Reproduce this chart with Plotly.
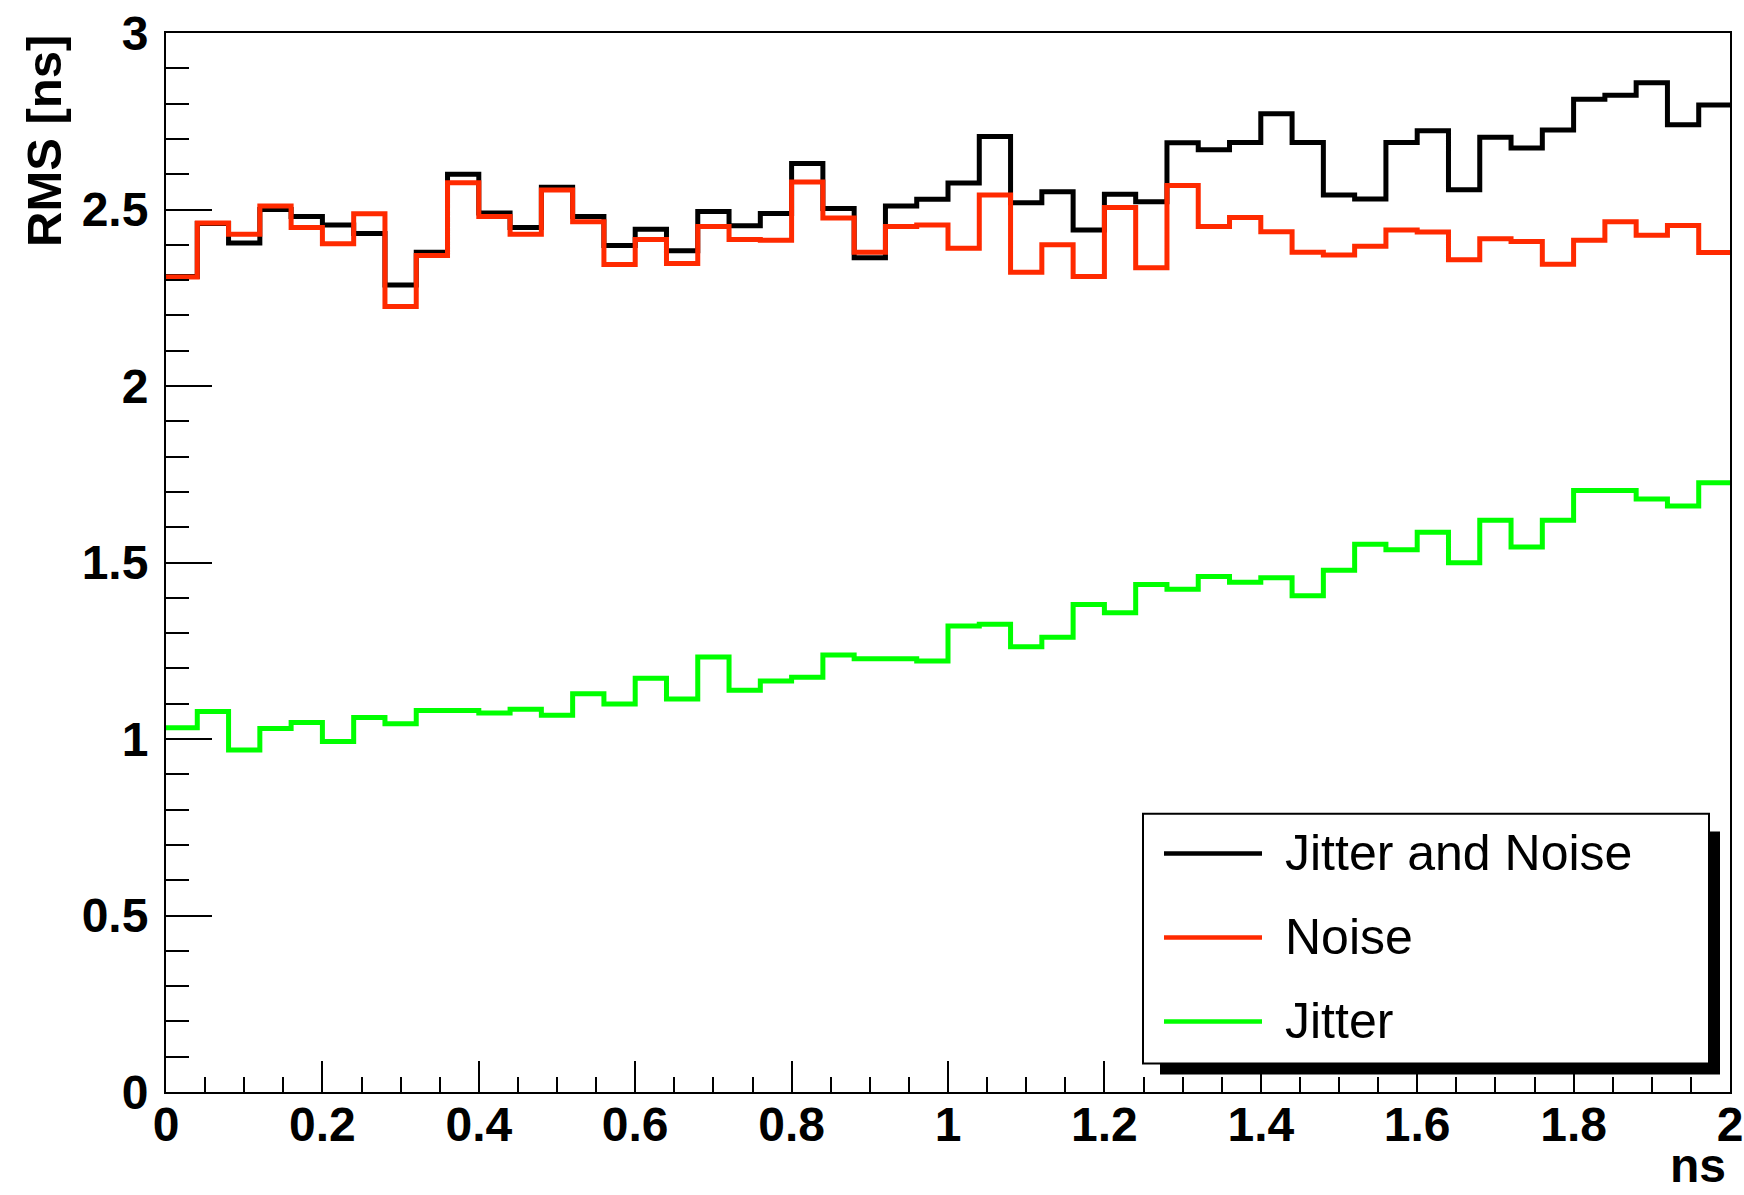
import plotly.graph_objects as go

# Binning of the time-shift axis (ns)
n_bins = 50
x_lo, x_hi = 0.0, 2.0

# RMS per bin [ns]
jitter_and_noise = [2.310, 2.460, 2.405, 2.500, 2.480, 2.456, 2.432, 2.286, 2.379, 2.600,
                    2.490, 2.449, 2.563, 2.480, 2.398, 2.444, 2.383, 2.494, 2.454, 2.489,
                    2.630, 2.503, 2.363, 2.510, 2.529, 2.575, 2.707, 2.519, 2.550, 2.442,
                    2.543, 2.522, 2.689, 2.669, 2.690, 2.771, 2.690, 2.541, 2.530, 2.690,
                    2.723, 2.556, 2.705, 2.674, 2.725, 2.812, 2.824, 2.859, 2.740, 2.796]
noise = [2.309, 2.462, 2.430, 2.510, 2.449, 2.403, 2.488, 2.225, 2.370, 2.576,
         2.480, 2.430, 2.555, 2.465, 2.344, 2.415, 2.347, 2.452, 2.415, 2.413,
         2.578, 2.476, 2.379, 2.452, 2.456, 2.390, 2.541, 2.322, 2.400, 2.310,
         2.506, 2.335, 2.568, 2.452, 2.477, 2.437, 2.379, 2.371, 2.396, 2.442,
         2.436, 2.358, 2.417, 2.409, 2.345, 2.413, 2.465, 2.427, 2.455, 2.378]
jitter = [1.032, 1.078, 0.969, 1.030, 1.047, 0.993, 1.061, 1.043, 1.081, 1.081,
          1.074, 1.084, 1.067, 1.128, 1.099, 1.172, 1.113, 1.232, 1.138, 1.164,
          1.175, 1.238, 1.227, 1.227, 1.221, 1.320, 1.325, 1.261, 1.288, 1.381,
          1.358, 1.438, 1.424, 1.460, 1.444, 1.457, 1.406, 1.478, 1.552, 1.536,
          1.586, 1.499, 1.620, 1.544, 1.620, 1.704, 1.704, 1.680, 1.660, 1.726]

series_names = ["Jitter and Noise", "Noise", "Jitter"]
series_colors = ["#000000", "#ff2a00", "#00ff00"]

x_tick_labels = ["0", "0.2", "0.4", "0.6", "0.8", "1", "1.2", "1.4", "1.6", "1.8", "2"]
y_tick_labels = ["0", "0.5", "1", "1.5", "2", "2.5", "3"]

bin_w = (x_hi - x_lo) / n_bins
edges = [round(x_lo + i * bin_w, 6) for i in range(n_bins + 1)]

W, H = 1744, 1195
ML, MR, MT, MB = 166, 14, 33, 102.5
PW, PH = W - ML - MR, H - MT - MB


def px_x(p):
    return (p - ML) / PW


def px_y(p):
    return (H - MB - p) / PH


fig = go.Figure()
for name, vals, col in zip(series_names, [jitter_and_noise, noise, jitter], series_colors):
    fig.add_trace(go.Scatter(
        x=edges, y=list(vals) + [vals[-1]],
        mode="lines", line=dict(shape="hv", color=col, width=5),
        name=name, showlegend=False, hoverinfo="skip",
    ))

tick_font = dict(family="Liberation Sans, Arial, sans-serif", size=48, color="black", weight="bold")

fig.update_layout(
    width=W, height=H,
    margin=dict(l=ML, r=MR, t=MT, b=MB, pad=0, autoexpand=False),
    paper_bgcolor="white", plot_bgcolor="white",
    xaxis=dict(
        range=[x_lo, x_hi], showgrid=False, zeroline=False, automargin=False,
        showline=True, linecolor="black", linewidth=2, mirror=True,
        ticks="inside", ticklen=31, tickwidth=2, tickcolor="black",
        tickmode="array", tickvals=[float(t) for t in x_tick_labels], ticktext=x_tick_labels,
        tickangle=0,
        minor=dict(ticks="inside", tickmode="linear", tick0=0, dtick=0.05,
                   ticklen=15, tickwidth=2, tickcolor="black"),
        tickfont=tick_font, ticklabelstandoff=-11,
    ),
    yaxis=dict(
        range=[0, 3], showgrid=False, zeroline=False, automargin=False,
        showline=True, linecolor="black", linewidth=2, mirror=True,
        ticks="inside", ticklen=46, tickwidth=2, tickcolor="black",
        tickmode="array", tickvals=[float(t) for t in y_tick_labels], ticktext=y_tick_labels,
        minor=dict(ticks="inside", tickmode="linear", tick0=0, dtick=0.1,
                   ticklen=23, tickwidth=2, tickcolor="black"),
        tickfont=tick_font, ticklabelstandoff=6,
    ),
)

# Axis titles
title_font = dict(family="Liberation Sans, Arial, sans-serif", size=48, color="black", weight="bold")
fig.add_annotation(text="ns", xref="paper", yref="paper", x=px_x(1727), y=px_y(1139),
                   xanchor="right", yanchor="top", showarrow=False, font=title_font, borderpad=0)
fig.add_annotation(text="RMS [ns]", xref="paper", yref="paper", x=px_x(44), y=px_y(33),
                   xanchor="center", yanchor="top", textangle=-90, showarrow=False,
                   font=dict(title_font, size=49))

# Legend box with drop shadow
box_l, box_t, box_r, box_b = 1143, 814, 1709, 1064
fig.add_shape(type="rect", xref="paper", yref="paper",
              x0=px_x(1160), x1=px_x(1720), y0=px_y(832), y1=px_y(1075),
              fillcolor="black", line=dict(width=0), layer="above")
fig.add_shape(type="rect", xref="paper", yref="paper",
              x0=px_x(box_l), x1=px_x(box_r), y0=px_y(box_t), y1=px_y(box_b),
              fillcolor="white", line=dict(color="black", width=2), layer="above")

legend_font = dict(family="Liberation Sans, Arial, sans-serif", size=50, color="black")
row_y = [853, 937, 1021]
for name, col, ry in zip(series_names, series_colors, row_y):
    fig.add_shape(type="line", xref="paper", yref="paper",
                  x0=px_x(1164), x1=px_x(1262), y0=px_y(ry + 1), y1=px_y(ry + 1),
                  line=dict(color=col, width=4.5), layer="above")
    fig.add_annotation(text=name, xref="paper", yref="paper", x=px_x(1283), y=px_y(ry),
                       xanchor="left", yanchor="middle", showarrow=False, font=legend_font)

fig.write_html("out.html")
